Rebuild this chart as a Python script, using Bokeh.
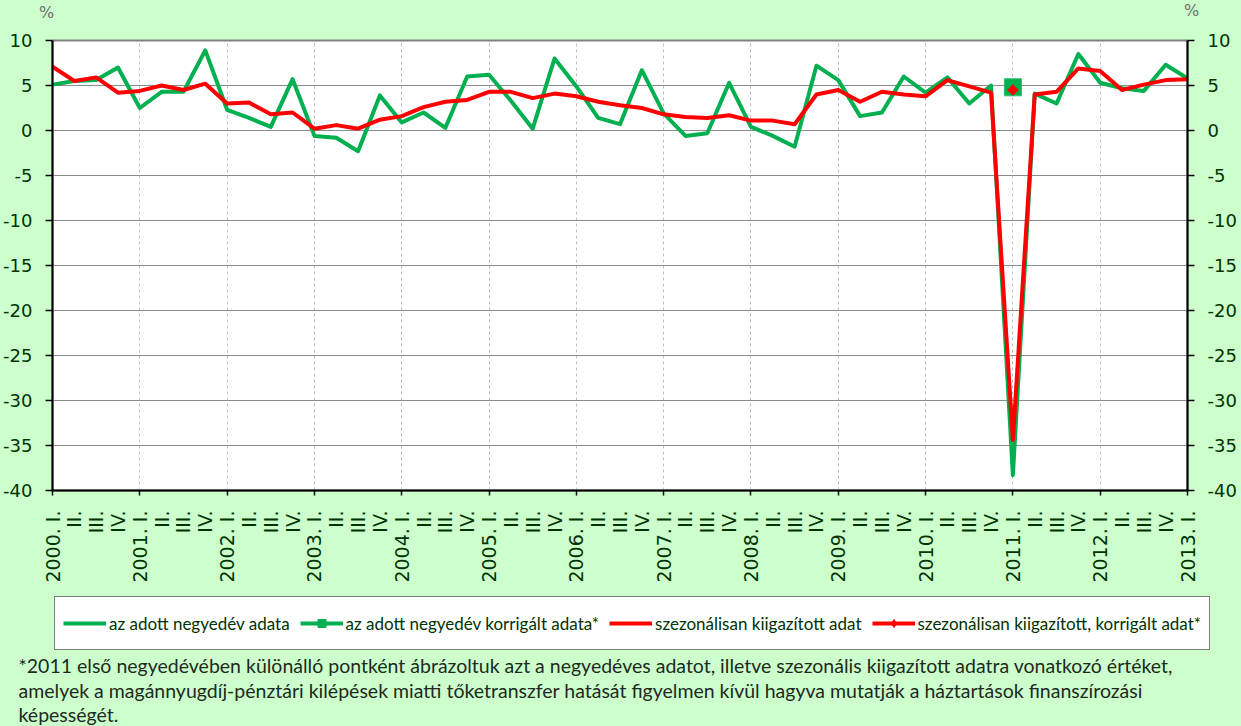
import math
from bokeh.plotting import figure
from bokeh.layouts import column
from bokeh.models import Range1d, FixedTicker, LinearAxis, Legend, LegendItem, Label
from bokeh.embed import file_html
from bokeh.resources import INLINE

# ---------------- data ----------------
years = list(range(2000, 2014))
quarter_names = ["I.", "II.", "III.", "IV."]

x_labels = []
for yr in years:
    for qi, qn in enumerate(quarter_names):
        if yr == 2013 and qi > 0:
            break
        x_labels.append(f"{yr}. {qn}" if qi == 0 else qn)

# az adott negyedév adata (%)
quarter_data = [5.1, 5.5, 5.6, 7.0, 2.5, 4.3, 4.3, 8.9, 2.3, 1.4, 0.4, 5.7, -0.6, -0.8,
                -2.3, 3.9, 0.9, 2.0, 0.3, 6.0, 6.2, 3.3, 0.2, 8.0, 4.9, 1.4, 0.7, 6.7,
                1.9, -0.6, -0.3, 5.3, 0.4, -0.6, -1.8, 7.2, 5.6, 1.6, 2.0, 6.0, 4.2,
                5.9, 3.0, 5.0, -38.3, 4.1, 3.0, 8.5, 5.3, 4.7, 4.4, 7.3, 5.8]
# szezonálisan kiigazított adat (%)
seasonal_data = [7.1, 5.5, 5.9, 4.2, 4.4, 5.0, 4.5, 5.2, 3.0, 3.1, 1.8, 2.0, 0.2, 0.6,
                 0.2, 1.2, 1.6, 2.6, 3.2, 3.4, 4.3, 4.3, 3.6, 4.1, 3.8, 3.2, 2.8, 2.5,
                 1.8, 1.5, 1.4, 1.7, 1.1, 1.1, 0.7, 4.0, 4.5, 3.2, 4.3, 4.0, 3.8, 5.6,
                 4.9, 4.2, -34.4, 4.0, 4.3, 6.9, 6.6, 4.5, 5.1, 5.6, 5.7]
# korrigált adatok 2011. I. negyedévre
corrected_label = "2011. I."
corrected_quarter = [4.8]
corrected_seasonal = [4.5]

y_ticks = [-40, -35, -30, -25, -20, -15, -10, -5, 0, 5, 10]

legend_labels = ["az adott negyedév adata",
                 "az adott negyedév korrigált adata*",
                 "szezonálisan kiigazított adat",
                 "szezonálisan kiigazított, korrigált adat*"]

footnote_lines = [
    "*2011 első negyedévében különálló pontként ábrázoltuk azt a negyedéves adatot, illetve szezonális kiigazított adatra vonatkozó értéket,",
    "amelyek a magánnyugdíj-pénztári kilépések miatti tőketranszfer hatását figyelmen kívül hagyva mutatják a háztartások finanszírozási",
    "képességét.",
]

# ---------------- style ----------------
BG = "#CCFFCC"
GREEN = "#00B050"
RED = "#FF0000"
TXT = "#003300"
AXFONT = "DejaVu Sans"
NOTEFONT = "Lato"
W = 1241


def blank_fig(h):
    f = figure(width=W, height=h, output_backend="svg", toolbar_location=None,
               x_range=Range1d(0, W), y_range=Range1d(h, 0),
               x_axis_location=None, y_axis_location=None,
               min_border=0, min_border_left=0, min_border_right=0,
               min_border_top=0, min_border_bottom=0)
    f.frame_align = False
    f.grid.visible = False
    f.outline_line_color = None
    f.background_fill_color = BG
    f.border_fill_color = BG
    return f


# ---------------- top strip with % ----------------
TH = 28
pt = blank_fig(TH)
for xpos, ypos in ((46, 12), (1191, 10)):
    pt.add_layout(Label(x=xpos, y=ypos, text="%", text_font=AXFONT, text_font_size="16px",
                        text_color="#6E6E6E", text_align="center", text_baseline="middle"))

# ---------------- main chart ----------------
xs = list(range(len(x_labels)))
year_pos = [i for i, l in enumerate(x_labels) if len(l) > 4]
x_corr = x_labels.index(corrected_label)

p = figure(width=W, height=562, output_backend="svg", toolbar_location=None,
           x_range=Range1d(0, len(x_labels) - 1), y_range=Range1d(-40, 10),
           min_border_left=52, min_border_right=54, min_border_top=12, min_border_bottom=100)
p.frame_align = False
p.background_fill_color = "white"
p.border_fill_color = BG
p.outline_line_color = "#808080"
p.outline_line_width = 2

p.ygrid.ticker = FixedTicker(ticks=y_ticks)
p.ygrid.grid_line_color = "#8C8C8C"
p.ygrid.grid_line_width = 1
p.xgrid.ticker = FixedTicker(ticks=year_pos)
p.xgrid.grid_line_color = "#BDBDBD"
p.xgrid.grid_line_dash = "3 3"
p.xgrid.grid_line_width = 1

xax = p.xaxis[0]
xax.ticker = FixedTicker(ticks=xs, minor_ticks=year_pos)
xax.major_label_overrides = {i: l for i, l in enumerate(x_labels)}
xax.major_label_orientation = math.pi / 2
xax.major_tick_line_color = None
xax.major_tick_out = 0
xax.major_tick_in = 0
xax.minor_tick_line_color = "black"
xax.minor_tick_out = 5
xax.minor_tick_in = 0
xax.minor_tick_line_width = 1.5
xax.axis_line_color = "black"
xax.axis_line_width = 2
xax.major_label_standoff = 15
xax.major_label_text_font = AXFONT
xax.major_label_text_font_size = "19px"
xax.major_label_text_color = TXT


def style_y(ax, standoff):
    ax.ticker = FixedTicker(ticks=y_ticks)
    ax.major_label_overrides = {v: str(v) for v in y_ticks}
    ax.major_tick_out = 7
    ax.major_tick_in = 0
    ax.major_tick_line_color = "black"
    ax.major_tick_line_width = 1.5
    ax.minor_tick_line_color = None
    ax.axis_line_color = "black"
    ax.axis_line_width = 2
    ax.major_label_standoff = standoff
    ax.major_label_text_font = AXFONT
    ax.major_label_text_font_size = "18px"
    ax.major_label_text_color = TXT


style_y(p.yaxis[0], 13)
rax = LinearAxis()
style_y(rax, 13)
p.add_layout(rax, "right")

p.line(xs, quarter_data, line_color=GREEN, line_width=4, line_join="round")
p.line(xs, seasonal_data, line_color=RED, line_width=4, line_join="round")
p.scatter([x_corr], corrected_quarter, marker="square", size=17,
          fill_color=GREEN, line_color="#2DBF6A", line_width=1)
p.scatter([x_corr], corrected_seasonal, marker="square", angle=math.pi / 4, size=7.5,
          fill_color=RED, line_color=RED)

# ---------------- bottom: legend + footnote ----------------
BH = 726 - TH - 562
pb = blank_fig(BH)
off = [-1000]
lg1 = pb.line(x=off, y=off, line_color=GREEN, line_width=4)
lg2l = pb.line(x=off, y=off, line_color=GREEN, line_width=4)
lg2m = pb.scatter(x=off, y=off, marker="square", size=8, fill_color=GREEN, line_color=GREEN)
lg3 = pb.line(x=off, y=off, line_color=RED, line_width=4)
lg4l = pb.line(x=off, y=off, line_color=RED, line_width=4)
lg4m = pb.scatter(x=off, y=off, marker="diamond", size=8,
                  fill_color=RED, line_color=RED)

legend = Legend(items=[
    LegendItem(label=legend_labels[0], renderers=[lg1]),
    LegendItem(label=legend_labels[1], renderers=[lg2l, lg2m]),
    LegendItem(label=legend_labels[2], renderers=[lg3]),
    LegendItem(label=legend_labels[3], renderers=[lg4l, lg4m]),
], location=(54, BH - 60), orientation="horizontal")
legend.background_fill_color = "white"
legend.background_fill_alpha = 1
legend.border_line_color = "black"
legend.border_line_width = 1
legend.padding = 8
legend.margin = 0
legend.spacing = 10
legend.glyph_width = 43
legend.glyph_height = 20
legend.label_height = 36
legend.label_standoff = 3
legend.label_text_font = NOTEFONT
legend.label_text_font_size = "17px"
legend.label_text_color = TXT
pb.add_layout(legend, "center")

for yy, line in zip((75, 100, 124), footnote_lines):
    pb.add_layout(Label(x=18, y=yy, text=line, text_font=NOTEFONT, text_font_size="19.5px",
                        text_color="#1E2A1E", text_align="left", text_baseline="middle"))

layout = column(pt, p, pb, spacing=0)

html = file_html(layout, INLINE)
html = html.replace("</head>", "<style>html, body { background-color: #CCFFCC; }</style></head>", 1)
open("out.html", "w").write(html)
